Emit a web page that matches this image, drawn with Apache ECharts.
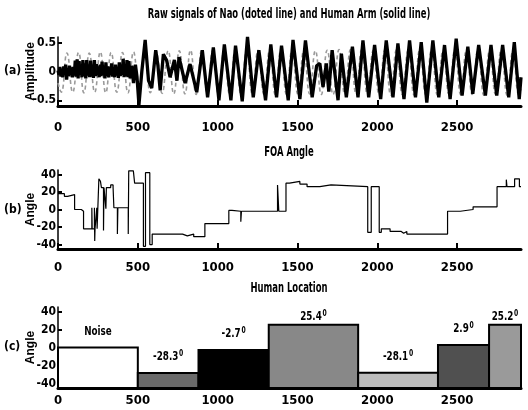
<!DOCTYPE html>
<html>
<head>
<meta charset="utf-8">
<script src="https://cdn.jsdelivr.net/npm/echarts@6.0.0/dist/echarts.min.js"></script>
<style>
html, body { margin: 0; padding: 0; background: #fff; }
#chart { width: 528px; height: 410px; }
</style>
</head>
<body>
<div id="chart"></div>
<script>
// x ticks shared by the three panels
const xTicks = [0, 500, 1000, 1500, 2000, 2500];

// (a) Nao signal, dashed: troughs and peaks
const naoX = [0, 20, 56, 92, 129, 162, 196, 230, 265, 299, 333, 368, 404, 438, 473, 507, 542, 578, 615, 652, 690,
  725, 760, 795, 830, 865, 900, 935, 970, 1005, 1040, 1075, 1110, 1146, 1182, 1217, 1253, 1290, 1326, 1361, 1396,
  1431, 1466, 1503, 1540, 1576, 1612, 1649, 1686, 1723, 1760, 1796, 1832, 1867, 1902, 1938, 1975, 2011, 2048,
  2084, 2120, 2157, 2194, 2230, 2266, 2303, 2340, 2376, 2412, 2449, 2486, 2522, 2558, 2594, 2630, 2667, 2704,
  2740, 2776, 2813, 2850, 2886, 2900];
const naoY = [-0.2, -0.36, 0.32, -0.36, 0.33, -0.37, 0.32, -0.36, 0.34, -0.37, 0.33, -0.36, 0.33, -0.37, 0.34, -0.38, 0.36, -0.37, 0.35, -0.38, 0.36,
  -0.39, 0.36, -0.39, 0.37, -0.4, 0.37, -0.39, 0.38, -0.4, 0.37, -0.4, 0.38, -0.4, 0.38, -0.39, 0.37, -0.4, 0.38, -0.4, 0.38,
  -0.4, 0.38, -0.4, 0.37, -0.39, 0.36, -0.4, 0.37, -0.4, 0.38, -0.4, 0.38, -0.4, 0.38, -0.4, 0.37, -0.4, 0.38,
  -0.41, 0.38, -0.4, 0.38, -0.41, 0.38, -0.4, 0.38, -0.41, 0.37, -0.4, 0.38, -0.4, 0.37, -0.4, 0.38, -0.41, 0.37,
  -0.4, 0.38, -0.41, 0.37, -0.4, -0.3];

// (a) human arm signal, solid
const armX = [0, 6, 12, 18, 24, 30, 36, 42, 48, 54, 60, 66, 72, 78, 84, 90, 96, 102, 108, 114, 120, 126, 132, 138,
  144, 150, 156, 162, 168, 174, 180, 186, 192, 198, 204, 210, 216, 222, 228, 234, 240, 246, 252, 258, 264, 270,
  276, 282, 288, 294, 300, 306, 312, 318, 324, 330, 336, 342, 348, 354, 360, 366, 372, 378, 384, 390, 396, 402,
  408, 414, 420, 426, 432, 438, 444, 452, 462, 473, 485, 495, 507, 525, 546, 567, 587, 600, 612, 626, 640, 660,
  681, 702, 729, 745, 758, 796, 827, 869, 904, 937, 973, 1008, 1042, 1083, 1112, 1154, 1187, 1223, 1258, 1300,
  1333, 1369, 1400, 1442, 1472, 1515, 1550, 1592, 1620, 1640, 1660, 1681, 1696, 1717, 1754, 1775, 1806, 1844,
  1879, 1910, 1946, 1983, 2021, 2056, 2098, 2129, 2167, 2202, 2239, 2275, 2310, 2348, 2385, 2421, 2456, 2494,
  2531, 2567, 2598, 2635, 2677, 2712, 2748, 2785, 2823, 2858, 2889, 2900];
const armY = [0.02, -0.06, 0.08, -0.09, 0.05, -0.1, 0.09, -0.05, 0.12, -0.14, 0.06, -0.08, 0.1, -0.06, 0.07, -0.1, 0.08, -0.07, 0.19, -0.09, 0.21, -0.12, 0.18, -0.06,
  0.1, -0.1, 0.2, -0.08, 0.14, -0.12, 0.2, -0.07, 0.12, -0.1, 0.19, -0.09, 0.08, -0.11, 0.2, -0.08, 0.13, -0.06,
  0.09, -0.1, 0.12, -0.08, 0.17, -0.06, 0.1, -0.12, 0.16, -0.08, 0.09, -0.1, 0.07, -0.06, 0.14, -0.09, 0.08, -0.1,
  0.12, -0.07, 0.06, -0.11, 0.16, -0.08, 0.1, -0.06, 0.22, -0.1, 0.12, -0.08, 0.2, -0.1, 0.18, -0.12, 0.1, -0.2,
  0.12, -0.1, -0.58, 0.0, 0.55, -0.16, -0.29, 0.05, 0.37, 0.1, -0.33, 0.3, 0.19, -0.1, 0.2, -0.16, 0.25, -0.2,
  0.13, -0.36, 0.37, -0.45, 0.42, -0.5, 0.47, -0.5, 0.45, -0.52, 0.6, -0.45, 0.37, -0.5, 0.47, -0.45, 0.45, -0.5,
  0.55, -0.48, 0.54, -0.45, 0.1, 0.14, -0.27, 0.14, -0.35, 0.37, -0.5, 0.31, -0.45, 0.43, -0.45, 0.54, -0.45,
  0.46, -0.48, 0.54, -0.45, 0.49, -0.48, 0.54, -0.45, 0.51, -0.54, 0.54, -0.45, 0.46, -0.48, 0.57, -0.42, 0.43,
  -0.39, 0.46, -0.42, 0.46, -0.42, 0.46, -0.45, 0.51, -0.48, -0.1];

// (b) FOA angle, step breakpoints
const foaX = [0, 40, 60, 104, 146, 160, 212, 214, 228, 230, 232, 243, 245, 256, 266, 272, 285, 288, 300, 303, 330,
  345, 350, 372, 375, 440, 443, 472, 480, 535, 548, 575, 590, 780, 810, 850, 920, 1070, 1090, 1145, 1149, 1375,
  1383, 1428, 1450, 1515, 1560, 1640, 1710, 1940, 1962, 2012, 2025, 2080, 2150, 2165, 2185, 2440, 2520, 2600,
  2750, 2808, 2812, 2860, 2890, 2900];
const foaY = [18, 15, 17, 0, -2, -22, 2, -22, 2, -36, -22, 2, -22, 35, 32, 25, -24, 25, 1, 25, 28,
  25, 2, -28, 2, -28, 44, 42, 30, -42, 42, -40, -28, -30, -28, -31, -16, -1, -2, -14, -2, 28,
  -2, 30, 32, 29, 26, 28, 26, -26, 26, -26, -22, -25, -27, -25, -28, -2, 0, 3,
  26, 34, 26, 35, 26, 26];

// (c) human location segments
const locStart = [0, 500, 880, 1320, 1880, 2380, 2700];
const locEnd = [500, 880, 1320, 1880, 2380, 2700, 2900];
const locAngle = [0, -28.3, -2.7, 25.4, -28.1, 2.9, 25.2];
const locText = ['Noise', '-28.3', '-2.7', '25.4', '-28.1', '2.9', '25.2'];

const angleTicks = [-40, -20, 0, 20, 40];
const ampTicks = [-0.5, 0, 0.5];

const locColors = ['#ffffff', '#6a6a6a', '#000000', '#888888', '#bcbcbc', '#505050', '#9a9a9a'];
const narrow = "'DejaVu Sans Condensed', 'Liberation Sans Narrow', sans-serif";
const wide = "'Liberation Sans', Arial, sans-serif";

const chart = echarts.init(document.getElementById('chart'), null, { renderer: 'canvas' });

function xAxisFor(i, gap) {
  return {
    type: 'value', gridIndex: i, min: 0, max: 2900,
    axisLine: { onZero: false, lineStyle: { color: '#000', width: 3 } },
    axisTick: { inside: true, length: 6, lineStyle: { color: '#000', width: 2 }, customValues: xTicks },
    axisLabel: {
      customValues: xTicks, formatter: v => String(v),
      color: '#000', fontFamily: narrow, fontWeight: 'bold', fontSize: 13, margin: gap
    },
    splitLine: { show: false }
  };
}
function yAxisFor(i, name, min, max, ticks) {
  return {
    type: 'value', gridIndex: i, min: min, max: max,
    name: name, nameLocation: 'middle', nameGap: 21, nameMoveOverlap: false,
    nameTextStyle: { color: '#000', fontFamily: wide, fontWeight: 'bold', fontSize: 12 },
    axisLine: { show: true, onZero: false, lineStyle: { color: '#000', width: 1.5 } },
    axisTick: { inside: true, length: 4, lineStyle: { color: '#000', width: 2 }, customValues: ticks },
    axisLabel: { customValues: ticks, color: '#000', fontFamily: narrow, fontWeight: 'bold', fontSize: 12, margin: 2 },
    splitLine: { show: false }
  };
}

// titles squeezed sideways like the narrow bold face of the original
function titleText(text, y) {
  return {
    type: 'text', x: 289, y: y, scaleX: 0.67,
    style: { text: text, x: 0, y: 0, align: 'center', verticalAlign: 'middle', font: 'bold 14px ' + narrow, fill: '#000' }
  };
}
function panelTag(text, y) {
  return {
    type: 'text', x: 4, y: y,
    style: { text: text, verticalAlign: 'middle', font: 'bold 12px ' + narrow, fill: '#000' }
  };
}

chart.setOption({
  animation: false,
  backgroundColor: '#fff',
  graphic: [
    titleText('Raw signals of Nao (doted line) and Human Arm (solid line)', 14),
    titleText('FOA Angle', 152),
    titleText('Human Location', 288),
    panelTag('(a)', 71),
    panelTag('(b)', 210),
    panelTag('(c)', 347)
  ],
  grid: [
    { left: 58, right: 7, top: 37, height: 69 },
    { left: 58, right: 7, top: 170, height: 79 },
    { left: 58, right: 7, top: 307, height: 81 }
  ],
  xAxis: [xAxisFor(0, 15), xAxisFor(1, 12), xAxisFor(2, 6)],
  yAxis: [
    yAxisFor(0, 'Amplitude', -0.6, 0.6, ampTicks),
    yAxisFor(1, 'Angle', -45, 45, angleTicks),
    yAxisFor(2, 'Angle', -45, 45, angleTicks)
  ],
  series: [
    {
      name: 'Nao', type: 'line', xAxisIndex: 0, yAxisIndex: 0, smooth: 0.5, symbol: 'none',
      lineStyle: { color: '#9a9a9a', width: 1.6, type: [4, 3] },
      data: naoX.map((x, i) => [x, naoY[i]])
    },
    {
      name: 'Human Arm', type: 'line', xAxisIndex: 0, yAxisIndex: 0, symbol: 'none',
      lineStyle: { color: '#000', width: 3.3 },
      data: armX.map((x, i) => [x, armY[i]])
    },
    {
      name: 'FOA', type: 'line', xAxisIndex: 1, yAxisIndex: 1, step: 'end', symbol: 'none',
      lineStyle: { color: '#000', width: 1.2 },
      data: foaX.map((x, i) => [x, foaY[i]])
    },
    {
      name: 'Location', type: 'custom', xAxisIndex: 2, yAxisIndex: 2,
      data: locStart.map((x, i) => [x, locEnd[i], locAngle[i]]),
      renderItem: function (params, api) {
        const i = params.dataIndex;
        const p0 = api.coord([api.value(0), api.value(2)]);
        const p1 = api.coord([api.value(1), -45]);
        const txt = i === 0 ? locText[i] : locText[i] + '{s|0}';
        return {
          type: 'group',
          children: [
            {
              type: 'rect',
              shape: { x: p0[0], y: p0[1], width: p1[0] - p0[0], height: p1[1] - p0[1] },
              style: { fill: locColors[i], stroke: '#000', lineWidth: 2 }
            },
            {
              type: 'text',
              x: (p0[0] + p1[0]) / 2,
              y: Math.max(p0[1] - 16, 317),
              scaleX: 0.75,
              style: {
                text: txt, align: 'center', verticalAlign: 'middle',
                font: 'bold 13px ' + narrow, fill: '#000',
                rich: { s: { fontSize: 9, fontFamily: narrow, fontWeight: 'bold', verticalAlign: 'top', padding: [0, 0, 7, 1] } }
              }
            }
          ]
        };
      }
    }
  ]
});
</script>
</body>
</html>
